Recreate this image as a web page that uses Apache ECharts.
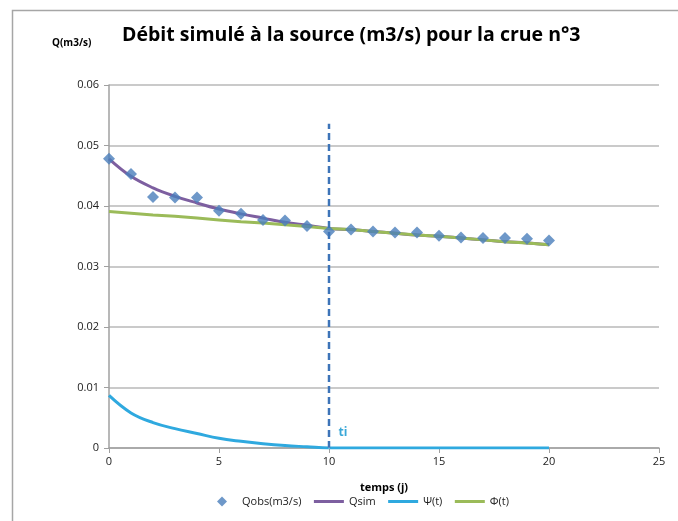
<!DOCTYPE html>
<html><head><meta charset="utf-8">
<script src="https://cdn.jsdelivr.net/npm/echarts@6/dist/echarts.min.js"></script>
<style>html,body{margin:0;padding:0;background:#fff}#c{width:678px;height:521px}</style>
</head><body><div id="c"></div>
<script>
const days = [0,1,2,3,4,5,6,7,8,9,10,11,12,13,14,15,16,17,18,19,20];
const qobs = [0.0478,0.0453,0.0415,0.0414,0.0414,0.0392,0.0387,0.0377,0.0376,0.0367,0.0358,0.0361,0.0358,0.0356,0.0356,0.0351,0.0348,0.0347,0.0347,0.0346,0.0343];
const qsim = [0.0478,0.0449,0.0430,0.0416,0.0405,0.0395,0.0387,0.0380,0.0373,0.0368,0.0363,0.0361,0.0358,0.0355,0.0352,0.0350,0.0347,0.0344,0.0341,0.0339,0.0336];
const psi  = [0.0087,0.0058,0.0042,0.0032,0.0024,0.0016,0.0011,0.0007,0.0004,0.0002,0.0000,0,0,0,0,0,0,0,0,0,0];
const phi  = [0.0391,0.0388,0.0385,0.0383,0.0380,0.0377,0.0374,0.0372,0.0369,0.0366,0.0363,0.0361,0.0358,0.0355,0.0352,0.0350,0.0347,0.0344,0.0341,0.0339,0.0336];
const tiX = [10,10];
const tiY = [0,0.0536];
const yTicks = ['0','0.01','0.02','0.03','0.04','0.05','0.06'];

const pair = a => days.map((d,i)=>[d,a[i]]);
const FONT = '"Open Sans", "Liberation Sans", sans-serif';
const chart = echarts.init(document.getElementById('c'), null, {renderer:'canvas'});
chart.setOption({
  animation:false,
  textStyle:{fontFamily:FONT},
  graphic:[{type:'rect', shape:{x:12.5,y:10.5,width:700,height:540}, style:{fill:'none', stroke:'#a6a6a6', lineWidth:1.5}, silent:true}],
  title:[
    {text:'Débit simulé à la source (m3/s) pour la crue n°3', left:117, top:20,
      textStyle:{fontFamily:FONT, fontSize:19.5, fontWeight:'bold', color:'#000'}},
    {text:'Q(m3/s)', left:47, top:33, textStyle:{fontFamily:FONT, fontSize:10, fontWeight:'bold', color:'#000'}}
  ],
  grid:{left:109, right:19, top:85, bottom:73, containLabel:false},
  legend:{bottom:9, left:212, itemWidth:30, itemHeight:10, itemGap:11, symbolKeepAspect:true,
    textStyle:{fontFamily:FONT, fontSize:11, color:'#222'},
    data:[
      {name:'Qobs(m3/s)', icon:'path://M5,0L10,5L5,10L0,5Z', itemStyle:{color:'#4a7ebb'}},
      {name:'Qsim', itemStyle:{opacity:0}, lineStyle:{width:3}},
      {name:'Ψ(t)', itemStyle:{opacity:0}, lineStyle:{width:3}},
      {name:'Φ(t)', itemStyle:{opacity:0}, lineStyle:{width:3}}
    ]},
  xAxis:{type:'value', min:0, max:25, interval:5, name:'temps (j)', nameLocation:'middle', nameGap:34,
    nameTextStyle:{fontFamily:FONT, fontSize:11, fontWeight:'bold', color:'#000'},
    axisLine:{lineStyle:{color:'#a0a0a0', width:1.5}}, axisTick:{show:true, inside:false, length:5, lineStyle:{color:'#a0a0a0'}},
    axisLabel:{fontSize:11, color:'#222', margin:8}, splitLine:{show:false}},
  yAxis:{type:'value', min:0, max:0.06, interval:0.01,
    axisLine:{show:true, lineStyle:{color:'#a0a0a0', width:1.5}}, axisTick:{show:true, length:5, lineStyle:{color:'#a0a0a0'}},
    axisLabel:{fontSize:11, color:'#222', margin:10, formatter:(v)=>yTicks[Math.round(v*100)]},
    splitLine:{show:true, lineStyle:{color:'#b8b8b8', width:1.5}}},
  series:[
    {name:'Qsim', type:'line', data:pair(qsim), smooth:0.4, symbol:'none', lineStyle:{color:'#7d5fa0', width:3}, itemStyle:{color:'#7d5fa0'}, z:3},
    {name:'Φ(t)', type:'line', data:pair(phi), symbol:'none', lineStyle:{color:'#9bbb59', width:3}, itemStyle:{color:'#9bbb59'}, z:4},
    {name:'Ψ(t)', type:'line', data:pair(psi), smooth:0.4, symbol:'none', lineStyle:{color:'#2fa9df', width:3}, itemStyle:{color:'#2fa9df'}, z:3},
    {name:'Qobs(m3/s)', type:'scatter', data:pair(qobs), symbol:'diamond', symbolSize:12, itemStyle:{color:'#4a7ebb'}, z:5},
    {name:'ti-line', type:'line', data:tiX.map((x,i)=>[x,tiY[i]]), symbol:'none', lineStyle:{color:'#3d74b8', width:2.5, type:[7,4]}, z:6, silent:true},
    {name:'ti-label', type:'scatter', data:[[tiX[0],tiY[0]]], symbolSize:1, itemStyle:{color:'#ffffff', opacity:1}, silent:true, z:7,
      label:{show:true, formatter:'ti', position:'right', offset:[4,-15], color:'#3aa8d8', fontSize:12, fontWeight:'bold',
        fontFamily:FONT, textBorderWidth:0, opacity:1}}
  ]
});
</script></body></html>
